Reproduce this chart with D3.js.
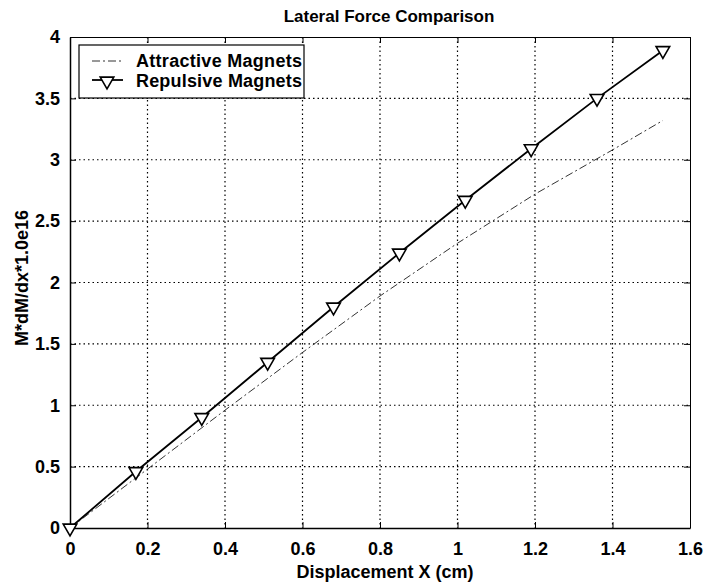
<!DOCTYPE html>
<html>
<head>
<meta charset="utf-8">
<script src="https://cdn.jsdelivr.net/npm/d3@7"></script>
<style>
  body { margin: 0; background: #fff; }
  svg { font-family: "Liberation Sans", Arial, sans-serif; }
  .tick text { font-size: 18px; font-weight: bold; fill: #000; }
</style>
</head>
<body>
<svg width="707" height="583"></svg>
<script>
// attractive magnets (dash-dot line)
var attrX = [0, 0.2, 0.4, 0.6, 0.8, 1.0, 1.2, 1.4, 1.53];
var attrY = [0, 0.48, 0.96, 1.43, 1.89, 2.32, 2.72, 3.08, 3.32];

// repulsive magnets (solid line with triangles)
var repX = [0, 0.17, 0.34, 0.51, 0.68, 0.85, 1.02, 1.19, 1.36, 1.53];
var repY = [0, 0.46, 0.90, 1.35, 1.80, 2.24, 2.67, 3.09, 3.50, 3.89];

var xTicks = [0, 0.2, 0.4, 0.6, 0.8, 1, 1.2, 1.4, 1.6];
var yTicks = [0, 0.5, 1, 1.5, 2, 2.5, 3, 3.5, 4];

var svg = d3.select("svg");
var padL = 70, padR = 690, padT = 37, padB = 528;

var x = d3.scaleLinear().domain([0, 1.6]).range([padL, padR]);
var y = d3.scaleLinear().domain([0, 4]).range([padB, padT]);

// grid
svg.append("g").selectAll("line").data(xTicks.slice(1, -1)).enter().append("line")
    .attr("x1", function(d){ return x(d); }).attr("x2", function(d){ return x(d); })
    .attr("y1", padT).attr("y2", padB)
    .attr("stroke", "#000").attr("stroke-width", 1.2).attr("stroke-dasharray", "1.5,3");
svg.append("g").selectAll("line").data(yTicks.slice(1, -1)).enter().append("line")
    .attr("y1", function(d){ return y(d); }).attr("y2", function(d){ return y(d); })
    .attr("x1", padL).attr("x2", padR)
    .attr("stroke", "#000").attr("stroke-width", 1.2).attr("stroke-dasharray", "1.5,3");

// axes
var xAxis = d3.axisBottom(x).tickValues(xTicks).tickSizeInner(-6).tickSizeOuter(0).tickPadding(14)
    .tickFormat(d3.format("~g"));
var yAxis = d3.axisLeft(y).tickValues(yTicks).tickSizeInner(-6).tickSizeOuter(0).tickPadding(10)
    .tickFormat(d3.format("~g"));

svg.append("g").attr("transform", "translate(0," + padB + ")").call(xAxis)
    .call(function(g){ g.select(".domain").attr("stroke-width", 1.5); });
svg.append("g").attr("transform", "translate(" + padL + ",0)").call(yAxis)
    .call(function(g){ g.select(".domain").attr("stroke-width", 1.5); });
svg.append("g").attr("transform", "translate(0," + padT + ")")
    .call(d3.axisTop(x).tickValues(xTicks).tickSizeInner(-6).tickSizeOuter(0).tickFormat(""));
svg.append("g").attr("transform", "translate(" + padR + ",0)")
    .call(d3.axisRight(y).tickValues(yTicks).tickSizeInner(-6).tickSizeOuter(0).tickFormat(""));

// lines
var attrData = attrX.map(function(v, i){ return [v, attrY[i]]; });
var repData = repX.map(function(v, i){ return [v, repY[i]]; });
var line = d3.line().x(function(d){ return x(d[0]); }).y(function(d){ return y(d[1]); });

svg.append("path").datum(attrData).attr("d", line)
    .attr("fill", "none").attr("stroke", "#333").attr("stroke-width", 1)
    .attr("stroke-dasharray", "8,3,2,3");
svg.append("path").datum(repData).attr("d", line)
    .attr("fill", "none").attr("stroke", "#000").attr("stroke-width", 1.8);

var tri = d3.symbol().type(d3.symbolTriangle).size(80);
svg.append("g").selectAll("path").data(repData).enter().append("path")
    .attr("d", tri)
    .attr("transform", function(d){ return "translate(" + x(d[0]) + "," + y(d[1]) + ") rotate(180)"; })
    .attr("fill", "#fff").attr("stroke", "#000").attr("stroke-width", 1.6);

// legend
var lg = svg.append("g");
lg.append("rect").attr("x", 79).attr("y", 45).attr("width", 225).attr("height", 53)
    .attr("fill", "#fff").attr("stroke", "#000").attr("stroke-width", 1.2);
lg.append("line").attr("x1", 92).attr("x2", 123).attr("y1", 61).attr("y2", 61)
    .attr("stroke", "#333").attr("stroke-width", 1).attr("stroke-dasharray", "8,3,2,3");
lg.append("text").attr("x", 136).attr("y", 67).text("Attractive Magnets")
    .attr("font-size", 18).attr("font-weight", "bold").attr("textLength", 166);
lg.append("line").attr("x1", 92).attr("x2", 123).attr("y1", 80).attr("y2", 80)
    .attr("stroke", "#000").attr("stroke-width", 1.8);
lg.append("path").attr("d", tri).attr("transform", "translate(107,81) rotate(180)")
    .attr("fill", "#fff").attr("stroke", "#000").attr("stroke-width", 1.6);
lg.append("text").attr("x", 136).attr("y", 87).text("Repulsive Magnets")
    .attr("font-size", 18).attr("font-weight", "bold").attr("textLength", 166);

// titles
svg.append("text").attr("x", 389).attr("y", 22).attr("text-anchor", "middle")
    .attr("font-size", 17).attr("font-weight", "bold").text("Lateral Force Comparison");
svg.append("text").attr("x", 385).attr("y", 578).attr("text-anchor", "middle")
    .attr("font-size", 18).attr("font-weight", "bold").text("Displacement X (cm)");
svg.append("text").attr("transform", "translate(28,278) rotate(-90)").attr("text-anchor", "middle")
    .attr("font-size", 18).attr("font-weight", "bold").text("M*dM/dx*1.0e16");
</script>
</body>
</html>
